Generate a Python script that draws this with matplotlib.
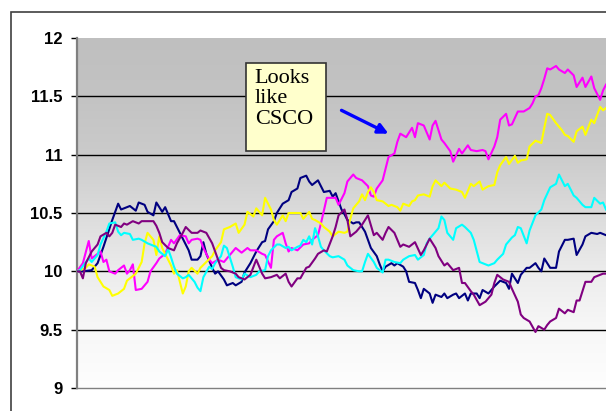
import numpy as np
import matplotlib.pyplot as plt
from matplotlib.patches import Rectangle

# five simulated price paths, all starting at $10
navy_day = [0, 2, 5, 7, 9, 12, 14, 15, 17, 18, 20, 21, 23, 24, 26, 27, 29, 30, 32, 33,
            34, 36, 38, 39, 41, 42, 43, 44, 46, 47, 48, 50, 51, 53, 54, 56, 57, 59, 61, 63,
            64, 65, 67, 68, 70, 72, 73, 75, 76, 78, 79, 80, 82, 83, 84, 86, 87, 88, 90, 91,
            92, 94, 95, 96, 98, 99, 100, 102, 103, 104, 105, 107, 108, 109, 111, 112, 113, 115, 116, 117,
            118, 120, 121, 122, 124, 125, 126, 128, 129, 130, 132, 133, 134, 136, 137, 138, 140, 141, 142, 144,
            145, 146, 147, 148, 150, 151, 153, 154, 156, 157, 158, 159, 160, 161, 163, 164, 166, 167, 169, 170,
            172, 173, 175, 177, 178, 180]
navy = [10.00, 10.00, 10.01, 10.07, 10.21, 10.44, 10.58, 10.53, 10.55, 10.56, 10.52, 10.59, 10.57, 10.51, 10.48, 10.59, 10.51, 10.55, 10.43, 10.43,
        10.38, 10.28, 10.18, 10.10, 10.10, 10.13, 10.25, 10.15, 10.03, 9.98, 10.00, 9.93, 9.88, 9.90, 9.88, 9.91, 9.99, 10.07, 10.17, 10.25,
        10.26, 10.36, 10.43, 10.50, 10.58, 10.61, 10.68, 10.71, 10.80, 10.82, 10.77, 10.74, 10.78, 10.73, 10.68, 10.69, 10.64, 10.67, 10.53, 10.49,
        10.44, 10.41, 10.42, 10.42, 10.34, 10.27, 10.20, 10.13, 10.06, 10.00, 10.04, 10.07, 10.05, 10.07, 10.04, 10.00, 9.91, 9.90, 9.84, 9.77,
        9.85, 9.81, 9.73, 9.80, 9.78, 9.81, 9.77, 9.80, 9.81, 9.77, 9.81, 9.75, 9.81, 9.81, 9.77, 9.84, 9.81, 9.84, 9.87, 9.92,
        9.91, 9.90, 9.85, 9.98, 9.90, 9.97, 10.03, 10.03, 10.07, 10.03, 10.00, 10.11, 10.07, 10.03, 10.03, 10.17, 10.27, 10.27, 10.28, 10.14,
        10.23, 10.30, 10.33, 10.32, 10.33, 10.31]

magenta_day = [0, 2, 4, 5, 6, 8, 9, 10, 11, 13, 14, 16, 17, 18, 19, 20, 22, 24, 25, 27,
               28, 30, 32, 33, 35, 37, 38, 39, 41, 42, 43, 45, 46, 48, 50, 51, 53, 54, 56, 58,
               59, 61, 63, 64, 66, 67, 68, 70, 71, 72, 73, 75, 77, 79, 80, 82, 83, 85, 86, 88,
               89, 91, 92, 94, 95, 97, 99, 100, 101, 102, 104, 105, 106, 108, 109, 110, 112, 114, 115, 116,
               118, 120, 121, 122, 124, 125, 127, 128, 130, 131, 133, 134, 136, 138, 139, 140, 142, 143, 144, 146,
               147, 148, 150, 152, 154, 155, 156, 157, 158, 159, 160, 161, 163, 164, 166, 167, 169, 170, 172, 173,
               175, 176, 178, 179, 180]
magenta = [10.00, 10.07, 10.26, 10.11, 10.13, 10.17, 10.08, 10.10, 10.00, 9.98, 10.01, 10.05, 9.98, 10.01, 10.06, 9.84, 9.85, 9.91, 10.00, 10.07,
           10.11, 10.15, 10.27, 10.24, 10.31, 10.30, 10.24, 10.27, 10.28, 10.27, 10.20, 10.10, 10.07, 10.10, 10.08, 10.11, 10.17, 10.20, 10.16, 10.20,
           10.18, 10.18, 10.15, 10.14, 10.03, 10.27, 10.30, 10.33, 10.24, 10.17, 10.20, 10.18, 10.23, 10.24, 10.27, 10.31, 10.41, 10.63, 10.63, 10.63,
           10.57, 10.67, 10.77, 10.83, 10.80, 10.78, 10.73, 10.65, 10.64, 10.71, 10.78, 10.88, 10.98, 11.01, 11.11, 11.18, 11.15, 11.23, 11.15, 11.27,
           11.25, 11.13, 11.25, 11.29, 11.13, 11.10, 11.03, 10.94, 11.05, 11.01, 11.08, 11.04, 11.03, 11.04, 11.03, 10.96, 11.07, 11.15, 11.30, 11.35,
           11.25, 11.26, 11.37, 11.37, 11.40, 11.44, 11.50, 11.51, 11.57, 11.65, 11.74, 11.73, 11.76, 11.73, 11.70, 11.73, 11.68, 11.58, 11.66, 11.58,
           11.67, 11.57, 11.47, 11.55, 11.60]

yellow_day = [0, 3, 4, 6, 7, 9, 11, 12, 14, 16, 17, 18, 20, 22, 23, 24, 26, 27, 28, 29,
              30, 32, 33, 34, 36, 37, 38, 39, 41, 42, 44, 46, 47, 49, 50, 52, 54, 55, 57, 58,
              60, 61, 63, 64, 66, 67, 68, 70, 71, 72, 74, 76, 77, 79, 80, 81, 83, 84, 86, 87,
              89, 91, 92, 93, 94, 96, 97, 98, 99, 100, 101, 102, 104, 106, 107, 109, 110, 111, 113, 114,
              115, 116, 118, 120, 121, 122, 124, 125, 127, 129, 131, 132, 134, 135, 137, 138, 140, 142, 143, 144,
              146, 147, 149, 150, 151, 153, 154, 156, 158, 159, 160, 161, 163, 165, 166, 167, 169, 170, 172, 173,
              175, 176, 178, 179, 180]
yellow = [10.00, 10.03, 10.06, 10.04, 9.95, 9.87, 9.84, 9.79, 9.81, 9.85, 9.92, 9.94, 9.98, 10.08, 10.24, 10.33, 10.27, 10.14, 10.30, 10.20,
          10.15, 10.05, 9.98, 10.01, 9.81, 9.87, 10.00, 10.03, 9.98, 10.03, 10.08, 10.13, 10.18, 10.25, 10.36, 10.38, 10.41, 10.33, 10.40, 10.51,
          10.47, 10.54, 10.48, 10.63, 10.53, 10.44, 10.40, 10.48, 10.43, 10.50, 10.50, 10.50, 10.45, 10.51, 10.45, 10.44, 10.41, 10.38, 10.34, 10.30,
          10.34, 10.33, 10.34, 10.45, 10.54, 10.60, 10.66, 10.61, 10.68, 10.72, 10.68, 10.61, 10.60, 10.56, 10.57, 10.55, 10.52, 10.58, 10.56, 10.60,
          10.61, 10.65, 10.66, 10.64, 10.73, 10.78, 10.73, 10.76, 10.71, 10.70, 10.68, 10.63, 10.75, 10.73, 10.77, 10.70, 10.73, 10.74, 10.85, 10.91,
          10.98, 10.92, 10.99, 10.93, 10.95, 10.96, 11.07, 11.12, 11.10, 11.23, 11.35, 11.34, 11.27, 11.21, 11.17, 11.16, 11.11, 11.20, 11.24, 11.17,
          11.30, 11.27, 11.41, 11.38, 11.40]

cyan_day = [0, 1, 3, 4, 5, 7, 8, 10, 11, 13, 14, 15, 16, 18, 19, 21, 22, 24, 25, 27,
            28, 30, 31, 32, 33, 34, 36, 37, 38, 40, 41, 42, 43, 45, 46, 47, 49, 50, 51, 53,
            54, 56, 57, 59, 61, 62, 64, 65, 66, 68, 69, 71, 72, 73, 75, 76, 77, 78, 79, 80,
            81, 82, 83, 84, 86, 87, 89, 91, 92, 94, 96, 97, 98, 99, 101, 102, 104, 105, 106, 108,
            110, 111, 113, 115, 116, 118, 119, 120, 121, 123, 124, 125, 126, 127, 128, 129, 131, 132, 134, 135,
            137, 138, 140, 142, 143, 145, 146, 148, 149, 150, 151, 153, 154, 156, 158, 159, 161, 163, 164, 166,
            167, 169, 170, 172, 173, 175, 176, 178, 179, 180]
cyan = [10.00, 10.01, 10.08, 10.11, 10.08, 10.14, 10.23, 10.34, 10.41, 10.42, 10.34, 10.31, 10.33, 10.32, 10.27, 10.28, 10.27, 10.24, 10.23, 10.21,
        10.17, 10.13, 10.19, 10.12, 10.04, 9.98, 9.94, 9.95, 9.97, 9.91, 9.86, 9.83, 9.95, 10.04, 10.02, 10.07, 10.13, 10.22, 10.20, 10.04,
        9.95, 9.93, 9.98, 9.95, 9.97, 10.00, 10.01, 10.13, 10.18, 10.23, 10.23, 10.20, 10.21, 10.18, 10.21, 10.22, 10.27, 10.25, 10.30, 10.23,
        10.37, 10.30, 10.21, 10.18, 10.13, 10.12, 10.13, 10.10, 10.05, 10.01, 10.00, 10.00, 10.08, 10.15, 10.08, 10.03, 9.99, 10.10, 10.10, 10.08,
        10.07, 10.10, 10.13, 10.14, 10.10, 10.14, 10.24, 10.28, 10.31, 10.37, 10.47, 10.44, 10.33, 10.30, 10.27, 10.37, 10.40, 10.38, 10.33, 10.27,
        10.08, 10.07, 10.05, 10.07, 10.10, 10.15, 10.23, 10.29, 10.31, 10.38, 10.37, 10.24, 10.35, 10.48, 10.53, 10.61, 10.72, 10.75, 10.83, 10.73,
        10.75, 10.65, 10.63, 10.57, 10.55, 10.55, 10.63, 10.58, 10.59, 10.53]

purple_day = [0, 1, 2, 3, 5, 7, 8, 10, 11, 12, 13, 15, 16, 17, 19, 21, 22, 24, 26, 27,
              28, 29, 31, 33, 34, 36, 37, 39, 41, 42, 44, 46, 47, 48, 49, 50, 52, 54, 55, 57,
              59, 61, 63, 64, 66, 68, 69, 71, 72, 73, 75, 76, 78, 79, 81, 82, 84, 85, 87, 88,
              89, 91, 92, 93, 95, 97, 99, 101, 102, 104, 105, 106, 108, 110, 111, 113, 115, 117, 118, 120,
              122, 123, 125, 126, 128, 130, 131, 132, 134, 135, 137, 139, 141, 142, 143, 145, 147, 148, 150, 151,
              152, 154, 156, 157, 159, 160, 161, 163, 164, 166, 167, 169, 170, 171, 173, 175, 176, 179, 180]
purple = [10.00, 10.00, 9.94, 10.07, 10.17, 10.23, 10.30, 10.33, 10.30, 10.33, 10.40, 10.38, 10.41, 10.40, 10.43, 10.41, 10.43, 10.43, 10.43, 10.39,
          10.33, 10.25, 10.20, 10.18, 10.24, 10.33, 10.38, 10.33, 10.33, 10.35, 10.33, 10.24, 10.17, 10.10, 10.03, 10.01, 10.00, 9.98, 9.95, 9.93,
          9.97, 10.10, 9.98, 9.94, 9.95, 9.97, 9.94, 9.98, 9.91, 9.87, 9.94, 9.94, 10.03, 10.04, 10.11, 10.15, 10.18, 10.17, 10.30, 10.38,
          10.48, 10.53, 10.44, 10.30, 10.34, 10.40, 10.48, 10.31, 10.33, 10.27, 10.33, 10.38, 10.33, 10.21, 10.23, 10.21, 10.25, 10.14, 10.18, 10.28,
          10.20, 10.13, 10.05, 10.07, 10.01, 10.03, 9.90, 9.90, 9.83, 9.80, 9.71, 9.74, 9.80, 9.90, 9.97, 9.93, 9.91, 9.85, 9.74, 9.63,
          9.60, 9.57, 9.48, 9.53, 9.50, 9.54, 9.57, 9.60, 9.68, 9.64, 9.67, 9.65, 9.75, 9.75, 9.91, 9.91, 9.95, 9.98, 9.98]

yticks = [9, 9.5, 10, 10.5, 11, 11.5, 12]

fig = plt.figure(figsize=(6.06, 4.11), dpi=100)
ax = fig.add_axes([77 / 606, 23 / 411, 529 / 606, 350 / 411])
ax.set_xlim(0, 180)
ax.set_ylim(9, 12)

# grey-to-white fill behind the plot
gy = np.linspace(9, 12, 300)
shade = np.interp(gy, [9, 9.5, 10, 10.5, 11, 11.5, 12],
                  [0.995, 0.97, 0.925, 0.86, 0.795, 0.765, 0.75])
ax.imshow(np.repeat(shade[:, None, None], 3, axis=2),
          extent=[0, 180, 9, 12], origin='lower', aspect='auto', zorder=0,
          interpolation='bilinear')

for v in yticks[1:-1]:
    ax.axhline(v, color='black', lw=1.0, zorder=1)

ax.plot(navy_day, navy, color='#000080', lw=1.5, zorder=3)
ax.plot(magenta_day, magenta, color='#FF00FF', lw=1.5, zorder=3)
ax.plot(yellow_day, yellow, color='#FFFF00', lw=1.5, zorder=3)
ax.plot(cyan_day, cyan, color='#00FFFF', lw=1.5, zorder=3)
ax.plot(purple_day, purple, color='#800080', lw=1.5, zorder=3)

ax.set_yticks(yticks)
ax.set_yticklabels(['{:g}'.format(t) for t in yticks],
                   fontfamily='Liberation Sans', fontweight='bold', fontsize=12)
ax.set_xticks([])
ax.tick_params(axis='y', direction='out', length=4.5, width=1, color='black', pad=6)
for s in ['top', 'right']:
    ax.spines[s].set_visible(False)
ax.spines['left'].set_color('#808080')
ax.spines['left'].set_linewidth(1.6)
ax.spines['bottom'].set_color('#808080')
ax.spines['bottom'].set_linewidth(1.0)

# callout box with arrow
ax.add_patch(Rectangle((0.3195, 0.677), 0.151, 0.251, transform=ax.transAxes,
                       facecolor='#FFFFCC', edgecolor='#333333', lw=1.2, zorder=5))
ax.text(0.336, 0.912, 'Looks\nlike\nCSCO', transform=ax.transAxes, va='top', ha='left',
        fontfamily='Liberation Serif', fontsize=16, linespacing=1.1, zorder=6)
ax.annotate('', xy=(106, 11.18), xytext=(90, 11.38),
            arrowprops=dict(arrowstyle='-|>', color='#0000FF', lw=2.4,
                            mutation_scale=15, shrinkA=0, shrinkB=0),
            zorder=6)

# outer chart frame
fig.add_artist(Rectangle((11 / 606, -0.1), 1.2, (411 - 12) / 411 + 0.1,
                         transform=fig.transFigure, fill=False,
                         edgecolor='#404040', lw=1.2))

plt.savefig('out.png', dpi=100)
